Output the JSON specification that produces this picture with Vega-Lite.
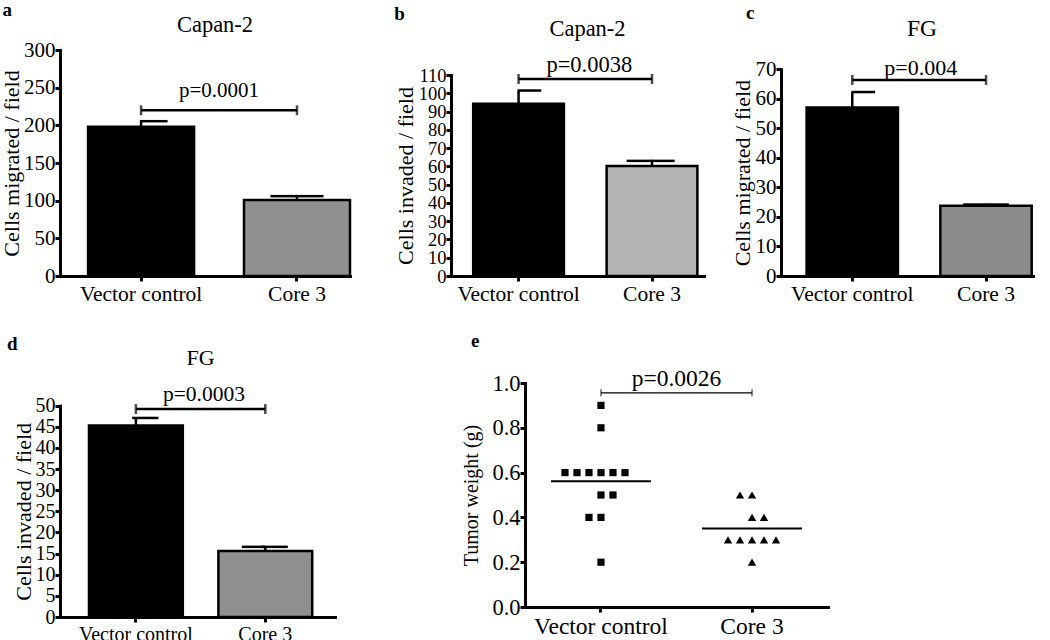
{
"$schema": "https://vega.github.io/schema/vega-lite/v6.json",
"padding": {"left": 0, "top": 0, "right": 0, "bottom": 0},
"datasets": {
 "a_bars": [{"group":"Vector control","value":198,"upper":205.5},{"group":"Core 3","value":101,"upper":106}],
 "a_br": [{"from":"Vector control","to":"Core 3","y":220,"label":"p=0.0001"}],
 "b_bars": [{"group":"Vector control","value":94.2,"upper":101.5},{"group":"Core 3","value":60.2,"upper":63}],
 "b_br": [{"from":"Vector control","to":"Core 3","y":107.8,"label":"p=0.0038"}],
 "c_bars": [{"group":"Vector control","value":57.1,"upper":62.3},{"group":"Core 3","value":23.8,"upper":24.2}],
 "c_br": [{"from":"Vector control","to":"Core 3","y":66.4,"label":"p=0.004"}],
 "d_bars": [{"group":"Vector control","value":45.3,"upper":47.1},{"group":"Core 3","value":15.6,"upper":16.6}],
 "d_br": [{"from":"Vector control","to":"Core 3","y":49.2,"label":"p=0.0003"}],
 "e_pts": [
  {"group":"Vector control","weight":0.9,"slot":0},
  {"group":"Vector control","weight":0.8,"slot":0},
  {"group":"Vector control","weight":0.6,"slot":-3},
  {"group":"Vector control","weight":0.6,"slot":-2},
  {"group":"Vector control","weight":0.6,"slot":-1},
  {"group":"Vector control","weight":0.6,"slot":0},
  {"group":"Vector control","weight":0.6,"slot":1},
  {"group":"Vector control","weight":0.6,"slot":2},
  {"group":"Vector control","weight":0.5,"slot":0},
  {"group":"Vector control","weight":0.5,"slot":1},
  {"group":"Vector control","weight":0.4,"slot":-1},
  {"group":"Vector control","weight":0.4,"slot":0},
  {"group":"Vector control","weight":0.2,"slot":0},
  {"group":"Core 3","weight":0.5,"slot":-1},
  {"group":"Core 3","weight":0.5,"slot":0},
  {"group":"Core 3","weight":0.4,"slot":0},
  {"group":"Core 3","weight":0.4,"slot":1},
  {"group":"Core 3","weight":0.3,"slot":-2},
  {"group":"Core 3","weight":0.3,"slot":-1},
  {"group":"Core 3","weight":0.3,"slot":0},
  {"group":"Core 3","weight":0.3,"slot":1},
  {"group":"Core 3","weight":0.3,"slot":2},
  {"group":"Core 3","weight":0.2,"slot":0}
 ],
 "e_br": [{"from":"Vector control","to":"Core 3","y":0.956,"label":"p=0.0026"}]
},
"config": {
 "font": "Liberation Serif",
 "view": {"stroke": null},
 "axis": {"domainColor":"black","domainWidth":3,"tickColor":"black","tickWidth":3,"tickSize":6,"labelColor":"black","labelFont":"Liberation Serif","labelFontSize":21,"titleFont":"Liberation Serif","titleFontSize":22,"titleFontWeight":"normal","titleColor":"black","grid":false,"labelOverlap":false,"labelBound":false,"labelFlush":false,"domainCap":"square"},
 "axisX": {"labelAngle":0,"tickSize":5,"labelPadding":2,"labelFontSize":21.5},
 "axisY": {"labelPadding":0,"titlePadding":1,"tickSize":5},
 "title": {"font":"Liberation Serif","fontWeight":"normal","color":"black","fontSize":22.5},
 "text": {"font":"Liberation Serif"}
},
"vconcat": [
 {"spacing": 42, "hconcat": [
  {"title": {"text":"a","anchor":"start","fontSize":19,"fontWeight":"bold","offset":-6,"frame":"bounds","dx":2},
   "vconcat": [{
    "title": {"text":"Capan-2","anchor":"middle","frame":"group","dx":10,"offset":3},
    "width": 290, "height": 226,
    "layer": [
     {"data":{"name":"a_bars"},"mark":{"type":"bar","stroke":"black","strokeWidth":2.5},
      "encoding":{
       "x":{"field":"group","type":"nominal","bandPosition":0,"scale":{"type":"band","domain":["Vector control","Core 3"],"paddingInner":0.32,"paddingOuter":0.09,"align":1},"axis":{"title":null}},
       "x2":{"field":"group","bandPosition":1},
       "y":{"field":"value","type":"quantitative","scale":{"domain":[0,300],"nice":false},"axis":{"title":"Cells migrated / field","titleFontSize":22,"titlePadding":0,"values":[0,50,100,150,200,250,300],"tickCount":7,"labelOverlap":false}},
       "y2":{"datum":0},
       "fill":{"condition":{"test":"datum.group === 'Vector control'","value":"#000000"},"value":"#909090"}}},
     {"data":{"name":"a_bars"},"mark":{"type":"rule","strokeWidth":2.5,"color":"black"},
      "encoding":{"x":{"field":"group","type":"nominal"},"y":{"field":"value","type":"quantitative","axis":{"title":"Cells migrated / field","titleFontSize":22,"titlePadding":0,"values":[0,50,100,150,200,250,300],"tickCount":7,"labelOverlap":false}},"y2":{"field":"upper"}}},
     {"data":{"name":"a_bars"},"mark":{"type":"rule","strokeWidth":2.5,"color":"black"},
      "encoding":{"x":{"field":"group","type":"nominal","bandPosition":0.49},"x2":{"field":"group","bandPosition":0.75},"y":{"field":"upper","type":"quantitative","axis":{"title":"Cells migrated / field","titleFontSize":22,"titlePadding":0,"values":[0,50,100,150,200,250,300],"tickCount":7,"labelOverlap":false}}}},
     {"data":{"name":"a_bars"},"transform":[{"filter":"datum.group === 'Core 3'"}],"mark":{"type":"rule","strokeWidth":2.5,"color":"black"},
      "encoding":{"x":{"field":"group","type":"nominal","bandPosition":0.25},"x2":{"field":"group","bandPosition":0.5},"y":{"field":"upper","type":"quantitative","axis":{"title":"Cells migrated / field","titleFontSize":22,"titlePadding":0,"values":[0,50,100,150,200,250,300],"tickCount":7,"labelOverlap":false}}}},
     {"data":{"name":"a_br"},"mark":{"type":"rule","strokeWidth":2.5,"color":"black"},
      "encoding":{"x":{"field":"from","type":"nominal","bandPosition":0.5},"x2":{"field":"to","bandPosition":0.5},"y":{"field":"y","type":"quantitative","axis":{"title":"Cells migrated / field","titleFontSize":22,"titlePadding":0,"values":[0,50,100,150,200,250,300],"tickCount":7,"labelOverlap":false}}}},
     {"data":{"name":"a_br"},"transform":[{"fold":["from","to"],"as":["end","grp"]}],"mark":{"type":"tick","orient":"vertical","size":10,"thickness":2.5,"color":"black"},
      "encoding":{"x":{"field":"grp","type":"nominal"},"y":{"field":"y","type":"quantitative","axis":{"title":"Cells migrated / field","titleFontSize":22,"titlePadding":0,"values":[0,50,100,150,200,250,300],"tickCount":7,"labelOverlap":false}}}},
     {"data":{"name":"a_br"},"mark":{"type":"text","baseline":"alphabetic","dy":-13,"fontSize":21,"color":"black"},
      "encoding":{"x":{"field":"from","type":"nominal","bandPosition":1.235},"y":{"field":"y","type":"quantitative","axis":{"title":"Cells migrated / field","titleFontSize":22,"titlePadding":0,"values":[0,50,100,150,200,250,300],"tickCount":7,"labelOverlap":false}},"text":{"field":"label"}}}
    ]
   }]
  },
  {"spacing": 27,
   "hconcat": [
    {"title": {"text":"b","anchor":"start","fontSize":19,"fontWeight":"bold","offset":-6,"frame":"bounds"},
     "vconcat": [{
      "title": {"text":"Capan-2","anchor":"middle","frame":"group","dx":10,"offset":10},
      "width": 253, "height": 226,
      "layer": [
       {"data":{"name":"b_bars"},"mark":{"type":"bar","stroke":"black","strokeWidth":2.5},
        "encoding":{
         "x":{"field":"group","type":"nominal","bandPosition":0,"scale":{"type":"band","domain":["Vector control","Core 3"],"paddingInner":0.32,"paddingOuter":0.108,"align":0.77},"axis":{"title":null}},
         "x2":{"field":"group","bandPosition":1},
         "y":{"field":"value","type":"quantitative","scale":{"domain":[0,110],"nice":false,"range":[226,25]},"axis":{"title":"Cells invaded / field","values":[0,10,20,30,40,50,60,70,80,90,100,110],"tickCount":12,"labelOverlap":false,"titlePadding":1,"labelFontSize":18.5}},
         "y2":{"datum":0},
         "fill":{"condition":{"test":"datum.group === 'Vector control'","value":"#000000"},"value":"#b4b4b4"}}},
       {"data":{"name":"b_bars"},"mark":{"type":"rule","strokeWidth":2.5,"color":"black"},
        "encoding":{"x":{"field":"group","type":"nominal"},"y":{"field":"value","type":"quantitative","axis":{"title":"Cells invaded / field","values":[0,10,20,30,40,50,60,70,80,90,100,110],"tickCount":12,"labelOverlap":false,"titlePadding":1,"labelFontSize":18.5}},"y2":{"field":"upper"}}},
       {"data":{"name":"b_bars"},"mark":{"type":"rule","strokeWidth":2.5,"color":"black"},
        "encoding":{"x":{"field":"group","type":"nominal","bandPosition":0.49},"x2":{"field":"group","bandPosition":0.75},"y":{"field":"upper","type":"quantitative","axis":{"title":"Cells invaded / field","values":[0,10,20,30,40,50,60,70,80,90,100,110],"tickCount":12,"labelOverlap":false,"titlePadding":1,"labelFontSize":18.5}}}},
       {"data":{"name":"b_bars"},"transform":[{"filter":"datum.group === 'Core 3'"}],"mark":{"type":"rule","strokeWidth":2.5,"color":"black"},
        "encoding":{"x":{"field":"group","type":"nominal","bandPosition":0.22},"x2":{"field":"group","bandPosition":0.5},"y":{"field":"upper","type":"quantitative","axis":{"title":"Cells invaded / field","values":[0,10,20,30,40,50,60,70,80,90,100,110],"tickCount":12,"labelOverlap":false,"titlePadding":1,"labelFontSize":18.5}}}},
       {"data":{"name":"b_br"},"mark":{"type":"rule","strokeWidth":2.5,"color":"black"},
        "encoding":{"x":{"field":"from","type":"nominal","bandPosition":0.5},"x2":{"field":"to","bandPosition":0.5},"y":{"field":"y","type":"quantitative","axis":{"title":"Cells invaded / field","values":[0,10,20,30,40,50,60,70,80,90,100,110],"tickCount":12,"labelOverlap":false,"titlePadding":1,"labelFontSize":18.5}}}},
       {"data":{"name":"b_br"},"transform":[{"fold":["from","to"],"as":["end","grp"]}],"mark":{"type":"tick","orient":"vertical","size":10,"thickness":2.5,"color":"black"},
        "encoding":{"x":{"field":"grp","type":"nominal"},"y":{"field":"y","type":"quantitative","axis":{"title":"Cells invaded / field","values":[0,10,20,30,40,50,60,70,80,90,100,110],"tickCount":12,"labelOverlap":false,"titlePadding":1,"labelFontSize":18.5}}}},
       {"data":{"name":"b_br"},"mark":{"type":"text","baseline":"alphabetic","dy":-7,"fontSize":22.5,"color":"black"},
        "encoding":{"x":{"field":"from","type":"nominal","bandPosition":1.28},"y":{"field":"y","type":"quantitative","axis":{"title":"Cells invaded / field","values":[0,10,20,30,40,50,60,70,80,90,100,110],"tickCount":12,"labelOverlap":false,"titlePadding":1,"labelFontSize":18.5}},"text":{"field":"label"}}}
      ]
     }]
    },
    {"title": {"text":"c","anchor":"start","fontSize":19,"fontWeight":"bold","offset":-6,"dx":15,"frame":"bounds"},
     "vconcat": [{
      "title": {"text":"FG","anchor":"middle","frame":"group","dx":14,"offset":10,"fontSize":23.5},
      "width": 254, "height": 226,
      "layer": [
       {"data":{"name":"c_bars"},"mark":{"type":"bar","stroke":"black","strokeWidth":2.5},
        "encoding":{
         "x":{"field":"group","type":"nominal","bandPosition":0,"scale":{"type":"band","domain":["Vector control","Core 3"],"paddingInner":0.317,"paddingOuter":0.108,"align":0.886},"axis":{"title":null}},
         "x2":{"field":"group","bandPosition":1},
         "y":{"field":"value","type":"quantitative","scale":{"domain":[0,70],"nice":false,"range":[226,19.3]},"axis":{"title":"Cells migrated / field","values":[0,10,20,30,40,50,60,70],"tickCount":8,"labelOverlap":false,"titlePadding":1}},
         "y2":{"datum":0},
         "fill":{"condition":{"test":"datum.group === 'Vector control'","value":"#000000"},"value":"#8c8c8c"}}},
       {"data":{"name":"c_bars"},"mark":{"type":"rule","strokeWidth":2.5,"color":"black"},
        "encoding":{"x":{"field":"group","type":"nominal"},"y":{"field":"value","type":"quantitative","axis":{"title":"Cells migrated / field","values":[0,10,20,30,40,50,60,70],"tickCount":8,"labelOverlap":false,"titlePadding":1}},"y2":{"field":"upper"}}},
       {"data":{"name":"c_bars"},"mark":{"type":"rule","strokeWidth":2.5,"color":"black"},
        "encoding":{"x":{"field":"group","type":"nominal","bandPosition":0.49},"x2":{"field":"group","bandPosition":0.75},"y":{"field":"upper","type":"quantitative","axis":{"title":"Cells migrated / field","values":[0,10,20,30,40,50,60,70],"tickCount":8,"labelOverlap":false,"titlePadding":1}}}},
       {"data":{"name":"c_bars"},"transform":[{"filter":"datum.group === 'Core 3'"}],"mark":{"type":"rule","strokeWidth":2.5,"color":"black"},
        "encoding":{"x":{"field":"group","type":"nominal","bandPosition":0.25},"x2":{"field":"group","bandPosition":0.5},"y":{"field":"upper","type":"quantitative","axis":{"title":"Cells migrated / field","values":[0,10,20,30,40,50,60,70],"tickCount":8,"labelOverlap":false,"titlePadding":1}}}},
       {"data":{"name":"c_br"},"mark":{"type":"rule","strokeWidth":2.5,"color":"black"},
        "encoding":{"x":{"field":"from","type":"nominal","bandPosition":0.5},"x2":{"field":"to","bandPosition":0.5},"y":{"field":"y","type":"quantitative","axis":{"title":"Cells migrated / field","values":[0,10,20,30,40,50,60,70],"tickCount":8,"labelOverlap":false,"titlePadding":1}}}},
       {"data":{"name":"c_br"},"transform":[{"fold":["from","to"],"as":["end","grp"]}],"mark":{"type":"tick","orient":"vertical","size":10,"thickness":2.5,"color":"black"},
        "encoding":{"x":{"field":"grp","type":"nominal"},"y":{"field":"y","type":"quantitative","axis":{"title":"Cells migrated / field","values":[0,10,20,30,40,50,60,70],"tickCount":8,"labelOverlap":false,"titlePadding":1}}}},
       {"data":{"name":"c_br"},"mark":{"type":"text","baseline":"alphabetic","dy":-5,"fontSize":22,"color":"black"},
        "encoding":{"x":{"field":"from","type":"nominal","bandPosition":1.25},"y":{"field":"y","type":"quantitative","axis":{"title":"Cells migrated / field","values":[0,10,20,30,40,50,60,70],"tickCount":8,"labelOverlap":false,"titlePadding":1}},"text":{"field":"label"}}}
      ]
     }]
    }
   ]
  }
 ]},
 {"spacing": 126,
  "hconcat": [
   {"title": {"text":"d","anchor":"start","fontSize":19,"fontWeight":"bold","offset":-7,"dx":-5,"frame":"bounds"},
    "vconcat": [{
     "title": {"text":"FG","anchor":"middle","frame":"group","dx":3,"offset":13,"fontSize":22},
     "width": 275, "height": 234,
     "layer": [
      {"data":{"name":"d_bars"},"mark":{"type":"bar","stroke":"black","strokeWidth":2.5},
       "encoding":{
        "x":{"field":"group","type":"nominal","bandPosition":0,"scale":{"type":"band","domain":["Vector control","Core 3"],"paddingInner":0.275,"paddingOuter":0.2,"align":0.56},"axis":{"title":null,"labelFontSize":20}},
        "x2":{"field":"group","bandPosition":1},
        "y":{"field":"value","type":"quantitative","scale":{"domain":[0,50],"nice":false,"range":[234,22.7]},"axis":{"title":"Cells invaded / field","titleFontSize":22,"titlePadding":0,"values":[0,5,10,15,20,25,30,35,40,45,50],"tickCount":11,"labelOverlap":false,"labelFontSize":20}},
        "y2":{"datum":0},
        "fill":{"condition":{"test":"datum.group === 'Vector control'","value":"#000000"},"value":"#8f8f8f"}}},
      {"data":{"name":"d_bars"},"mark":{"type":"rule","strokeWidth":2.5,"color":"black"},
       "encoding":{"x":{"field":"group","type":"nominal"},"y":{"field":"value","type":"quantitative","axis":{"title":"Cells invaded / field","titleFontSize":22,"titlePadding":0,"values":[0,5,10,15,20,25,30,35,40,45,50],"tickCount":11,"labelOverlap":false,"labelFontSize":20}},"y2":{"field":"upper"}}},
      {"data":{"name":"d_bars"},"mark":{"type":"rule","strokeWidth":2.5,"color":"black"},
       "encoding":{"x":{"field":"group","type":"nominal","bandPosition":0.46},"x2":{"field":"group","bandPosition":0.74},"y":{"field":"upper","type":"quantitative","axis":{"title":"Cells invaded / field","titleFontSize":22,"titlePadding":0,"values":[0,5,10,15,20,25,30,35,40,45,50],"tickCount":11,"labelOverlap":false,"labelFontSize":20}}}},
      {"data":{"name":"d_bars"},"transform":[{"filter":"datum.group === 'Core 3'"}],"mark":{"type":"rule","strokeWidth":2.5,"color":"black"},
       "encoding":{"x":{"field":"group","type":"nominal","bandPosition":0.25},"x2":{"field":"group","bandPosition":0.5},"y":{"field":"upper","type":"quantitative","axis":{"title":"Cells invaded / field","titleFontSize":22,"titlePadding":0,"values":[0,5,10,15,20,25,30,35,40,45,50],"tickCount":11,"labelOverlap":false,"labelFontSize":20}}}},
      {"data":{"name":"d_br"},"mark":{"type":"rule","strokeWidth":2.5,"color":"black"},
       "encoding":{"x":{"field":"from","type":"nominal","bandPosition":0.5},"x2":{"field":"to","bandPosition":0.5},"y":{"field":"y","type":"quantitative","axis":{"title":"Cells invaded / field","titleFontSize":22,"titlePadding":0,"values":[0,5,10,15,20,25,30,35,40,45,50],"tickCount":11,"labelOverlap":false,"labelFontSize":20}}}},
      {"data":{"name":"d_br"},"transform":[{"fold":["from","to"],"as":["end","grp"]}],"mark":{"type":"tick","orient":"vertical","size":10,"thickness":2.5,"color":"black"},
       "encoding":{"x":{"field":"grp","type":"nominal"},"y":{"field":"y","type":"quantitative","axis":{"title":"Cells invaded / field","titleFontSize":22,"titlePadding":0,"values":[0,5,10,15,20,25,30,35,40,45,50],"tickCount":11,"labelOverlap":false,"labelFontSize":20}}}},
      {"data":{"name":"d_br"},"mark":{"type":"text","baseline":"alphabetic","dy":-8,"fontSize":21.5,"color":"black"},
       "encoding":{"x":{"field":"from","type":"nominal","bandPosition":1.225},"y":{"field":"y","type":"quantitative","axis":{"title":"Cells invaded / field","titleFontSize":22,"titlePadding":0,"values":[0,5,10,15,20,25,30,35,40,45,50],"tickCount":11,"labelOverlap":false,"labelFontSize":20}},"text":{"field":"label"}}}
     ]
    }]
   },
   {"title": {"text":"e","anchor":"start","fontSize":19,"fontWeight":"bold","offset":16,"dx":9,"frame":"bounds"},
    "vconcat": [{
     "width": 303, "height": 224,
     "layer": [
      {"data":{"name":"e_pts"},"mark":{"type":"point","filled":true,"opacity":1,"color":"black"},
       "encoding":{
        "x":{"field":"group","type":"nominal","scale":{"type":"band","domain":["Vector control","Core 3"],"paddingInner":0.338,"paddingOuter":0.172},"axis":{"title":null,"labelFontSize":23.5}},
        "xOffset":{"field":"slot","type":"quantitative","scale":{"domain":[-4.1667,4.1667]}},
        "y":{"field":"weight","type":"quantitative","scale":{"domain":[0,1],"nice":false},"axis":{"title":"Tumor weight (g)","values":[0,0.2,0.4,0.6,0.8,1],"format":".1f","labelOverlap":false,"titlePadding":10,"titleFontSize":20,"labelFontSize":22.5}},
        "shape":{"condition":{"test":"datum.group === 'Vector control'","value":"square"},"value":"triangle-up"},
        "size":{"condition":{"test":"datum.group === 'Vector control'","value":52},"value":70}}},
      {"data":{"name":"e_pts"},"mark":{"type":"rule","strokeWidth":2,"color":"black"},
       "encoding":{"x":{"field":"group","type":"nominal","bandPosition":0},"x2":{"field":"group","bandPosition":1},"y":{"aggregate":"mean","field":"weight","type":"quantitative","axis":{"title":"Tumor weight (g)","values":[0,0.2,0.4,0.6,0.8,1],"format":".1f","labelOverlap":false,"titlePadding":10,"titleFontSize":20,"labelFontSize":22.5}}}},
      {"data":{"name":"e_br"},"mark":{"type":"rule","strokeWidth":1.3,"color":"black"},
       "encoding":{"x":{"field":"from","type":"nominal","bandPosition":0.5},"x2":{"field":"to","bandPosition":0.5},"y":{"field":"y","type":"quantitative","axis":{"title":"Tumor weight (g)","values":[0,0.2,0.4,0.6,0.8,1],"format":".1f","labelOverlap":false,"titlePadding":10,"titleFontSize":20,"labelFontSize":22.5}}}},
      {"data":{"name":"e_br"},"transform":[{"fold":["from","to"],"as":["end","grp"]}],"mark":{"type":"tick","orient":"vertical","size":7,"thickness":1.3,"color":"black"},
       "encoding":{"x":{"field":"grp","type":"nominal"},"y":{"field":"y","type":"quantitative","axis":{"title":"Tumor weight (g)","values":[0,0.2,0.4,0.6,0.8,1],"format":".1f","labelOverlap":false,"titlePadding":10,"titleFontSize":20,"labelFontSize":22.5}}}},
      {"data":{"name":"e_br"},"mark":{"type":"text","baseline":"alphabetic","dy":-7,"fontSize":23.5,"color":"black"},
       "encoding":{"x":{"field":"from","type":"nominal","bandPosition":1.255},"y":{"field":"y","type":"quantitative","axis":{"title":"Tumor weight (g)","values":[0,0.2,0.4,0.6,0.8,1],"format":".1f","labelOverlap":false,"titlePadding":10,"titleFontSize":20,"labelFontSize":22.5}},"text":{"field":"label"}}}
     ]
    }]
   }
  ]
 }
],
"spacing": 26
}
